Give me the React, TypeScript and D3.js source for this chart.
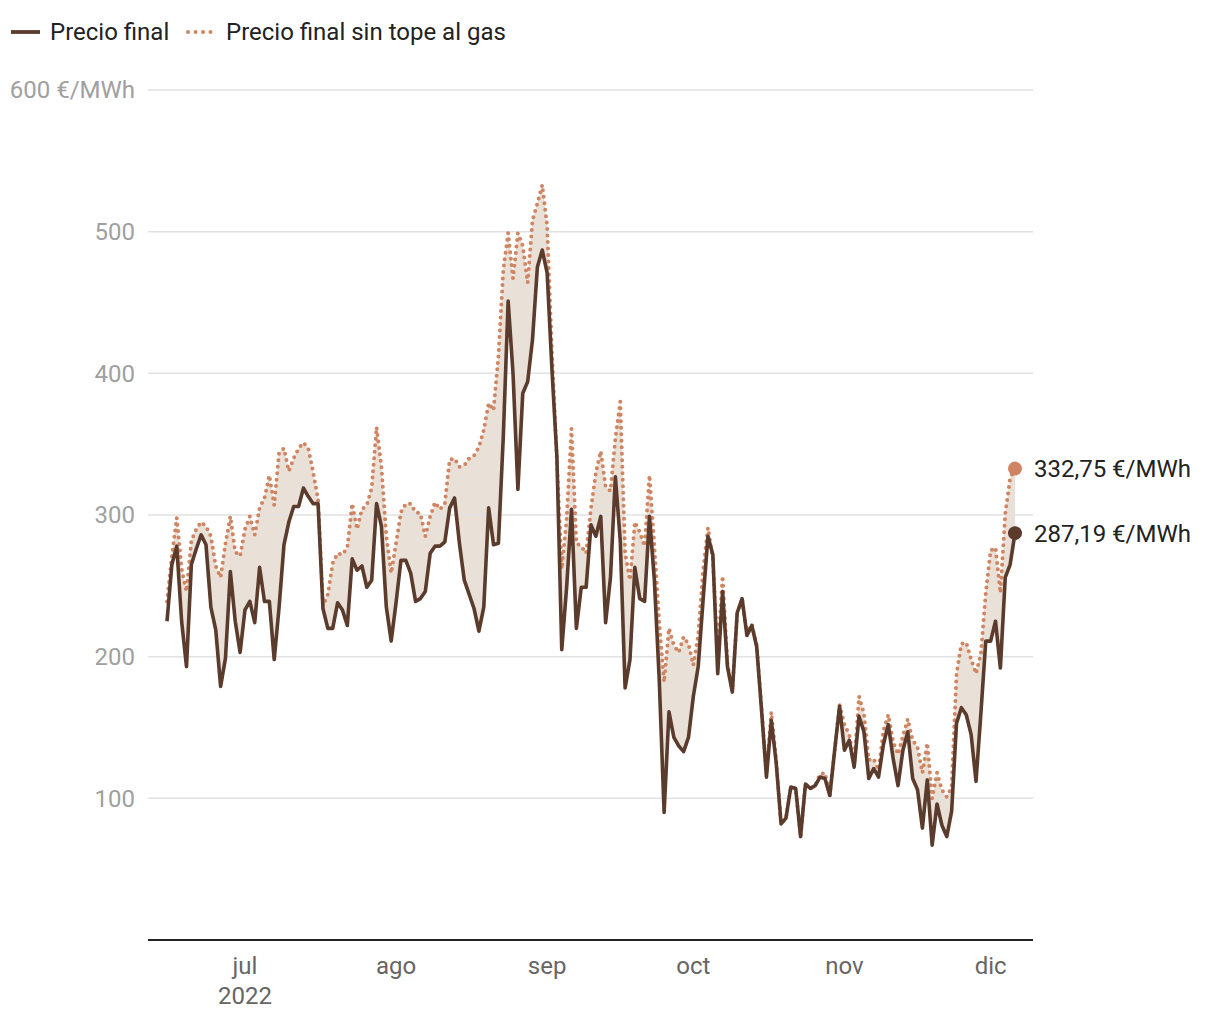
import React from "react";
import * as d3 from "d3";

const startDate = new Date(2022, 5, 15);

const precioFinal: number[] = [
  225, 265, 278, 225, 193, 265, 276, 286, 279, 235, 219, 179, 199, 260, 225, 203,
  233, 239, 224, 263, 239, 239, 198, 235, 279, 295, 306, 306, 319, 313, 308, 308,
  234, 220, 220, 238, 233, 222, 269, 261, 264, 249, 254, 308, 292, 235, 211,
  238, 268, 268, 259, 239, 241, 246, 273, 278, 278, 281, 305, 312, 280, 254, 244,
  234, 218, 235, 305, 279, 280, 355, 451, 400, 318, 386, 394, 424, 475, 487,
  471, 402, 341, 205, 249, 304, 220, 249, 249, 293, 285, 299, 224, 256, 327, 282,
  178, 198, 263, 241, 239, 299, 254, 184, 90, 161, 143, 137, 133, 143,
  172, 193, 240, 285, 272, 188, 246, 193, 175, 231, 241, 215, 222, 207, 162, 115,
  155, 125, 82, 86, 108, 107, 73, 110, 107, 109, 115, 114, 102, 134, 165,
  134, 141, 122, 158, 147, 114, 121, 115, 138, 152, 128, 109, 134, 147, 114, 106,
  79, 113, 67, 96, 81, 73, 91, 153, 164, 159, 145, 112, 160, 211,
  211, 225, 192, 256, 265, 287.19,
];

const precioSinTope: number[] = [
  239, 271, 298, 262, 246, 282, 290, 295, 292, 285, 264, 256, 280, 299, 274, 271,
  290, 299, 286, 305, 312, 328, 307, 344, 347, 331, 340, 347, 351, 347, 330, 311,
  236, 244, 266, 273, 272, 277, 308, 290, 304, 307, 319, 362, 334, 285, 259,
  280, 302, 308, 308, 302, 301, 285, 299, 309, 304, 308, 339, 340, 334, 335, 340,
  342, 348, 360, 379, 374, 412, 473, 499, 467, 499, 490, 464, 508, 520, 533,
  504, 414, 339, 262, 297, 361, 280, 278, 273, 305, 330, 345, 320, 317, 354, 380,
  273, 254, 295, 288, 278, 328, 278, 224, 182, 220, 208, 203, 214, 209,
  194, 215, 261, 291, 269, 200, 257, 195, 176, 231, 241, 216, 223, 208, 163, 118,
  161, 127, 82, 86, 108, 107, 73, 110, 107, 109, 117, 118, 102, 134, 166,
  152, 145, 124, 172, 160, 127, 128, 120, 148, 159, 140, 131, 144, 156, 141, 136,
  118, 139, 100, 118, 106, 101, 108, 188, 209, 210, 198, 188, 202, 245,
  275, 277, 245, 301, 326, 332.75,
];

const yTicks: number[] = [100, 200, 300, 400, 500, 600];
const monthTicks: Date[] = [
  new Date(2022, 6, 1), new Date(2022, 7, 1), new Date(2022, 8, 1),
  new Date(2022, 9, 1), new Date(2022, 10, 1), new Date(2022, 11, 1),
];
const monthLabels: string[] = ["jul", "ago", "sep", "oct", "nov", "dic"];
const legendLabels: string[] = ["Precio final", "Precio final sin tope al gas"];
const endLabels: string[] = ["332,75 €/MWh", "287,19 €/MWh"];

const SOLID = "#5b3b2c";
const DOTTED = "#cf8562";
const FILL = "#e9e0d7";
const FONT = "Roboto, 'Noto Sans', sans-serif";
const FS = 24;

type Pt = { date: Date; a: number; b: number };

export default function App() {
  const W = 1220, H = 1020;
  const left = 148, right = 1033, top = 90, bottom = 940;
  const data: Pt[] = precioFinal.map((v, i) => ({
    date: d3.timeDay.offset(startDate, i),
    a: v,
    b: precioSinTope[i],
  }));
  const x = d3.scaleTime()
    .domain([data[0].date, data[data.length - 1].date])
    .range([167, 1015]);
  const y = d3.scaleLinear().domain([0, 600]).range([bottom, top]);

  const area = d3.area<Pt>().x((d) => x(d.date)).y0((d) => y(d.a)).y1((d) => y(d.b));
  const lineA = d3.line<Pt>().x((d) => x(d.date)).y((d) => y(d.a));
  const lineB = d3.line<Pt>().x((d) => x(d.date)).y((d) => y(d.b));
  const last = data[data.length - 1];

  return (
    <svg width={W} height={H} style={{ display: "block", position: "absolute", left: 0, top: 0 }} fontFamily={FONT}>
      <rect width={W} height={H} fill="#fff" />
      {/* legend */}
      <line x1={11} x2={40} y1={32} y2={32} stroke={SOLID} strokeWidth={3.8} />
      <text x={50} y={32} dy="0.35em" fontSize={FS} fill="#222">{legendLabels[0]}</text>
      <line x1={188} x2={214} y1={32} y2={32} stroke={DOTTED} strokeWidth={4}
        strokeDasharray="0 7.5" strokeLinecap="round" />
      <text x={226} y={32} dy="0.35em" fontSize={FS} fill="#222">{legendLabels[1]}</text>

      <path d={area(data) || ""} fill={FILL} />
      {yTicks.map((t) => (
        <g key={t}>
          <line x1={left} x2={right} y1={y(t)} y2={y(t)} stroke="#e2e2e2" strokeWidth={1.5} />
          <text x={135} y={y(t)} dy="0.35em" textAnchor="end" fontSize={FS} fill="#a0a0a0">
            {t === 600 ? `${t} €/MWh` : t}
          </text>
        </g>
      ))}
      <line x1={left} x2={right} y1={bottom} y2={bottom} stroke="#222" strokeWidth={2} />
      {monthTicks.map((m, i) => (
        <text key={i} x={x(m)} y={966} dy="0.35em" textAnchor="middle" fontSize={FS} fill="#666">
          {monthLabels[i]}
        </text>
      ))}
      <text x={x(monthTicks[0])} y={996} dy="0.35em" textAnchor="middle" fontSize={FS} fill="#666">2022</text>

      <path d={lineB(data) || ""} fill="none" stroke={DOTTED} strokeWidth={4}
        strokeDasharray="0 6.5" strokeLinecap="round" strokeLinejoin="round" />
      <path d={lineA(data) || ""} fill="none" stroke={SOLID} strokeWidth={3.6} strokeLinejoin="round" />

      <circle cx={x(last.date)} cy={y(last.b)} r={7} fill={DOTTED} />
      <circle cx={x(last.date)} cy={y(last.a)} r={7} fill={SOLID} />
      <text x={1034} y={y(last.b)} dy="0.35em" fontSize={FS} fill="#222">{endLabels[0]}</text>
      <text x={1034} y={y(last.a)} dy="0.35em" fontSize={FS} fill="#222">{endLabels[1]}</text>
    </svg>
  );
}
